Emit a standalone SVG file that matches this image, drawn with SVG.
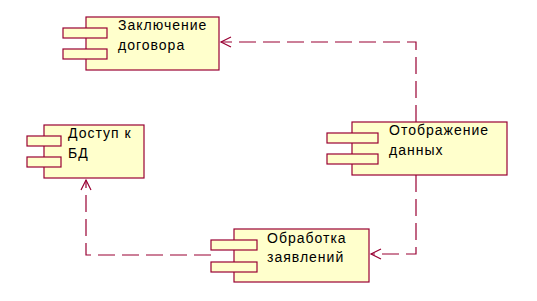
<svg xmlns="http://www.w3.org/2000/svg" width="537" height="301" viewBox="0 0 537 301">
<style>
.body{fill:#FFFFCC;stroke:#990033;stroke-width:1.2}
.tab{fill:#FFFFCC;stroke:#990033;stroke-width:1.2}
.lbl{font-family:"Liberation Sans",Arial,sans-serif;font-size:14px;letter-spacing:1px;fill:#000}
.dep{fill:none;stroke:#990033;stroke-width:1.2;stroke-dasharray:17 7}
</style>
<defs>
<marker id="open" markerUnits="userSpaceOnUse" markerWidth="14" markerHeight="14" refX="11" refY="6" orient="auto">
<path d="M1,1 L11,6 L1,11" fill="none" stroke="#990033" stroke-width="1.2"/>
</marker>
</defs>
<rect width="537" height="301" fill="#fff"/>
<g id="connectors">
<path class="dep" d="M416,122 V42 H221" marker-end="url(#open)"/>
<path class="dep" d="M416,175 V254 H371" marker-end="url(#open)"/>
<path class="dep" d="M211,255 H86 V180" marker-end="url(#open)"/>
</g>
<g id="zaklyuchenie">
<rect class="body" x="86" y="17" width="133" height="53"/>
<rect class="tab" x="63" y="28" width="44" height="10"/>
<rect class="tab" x="63" y="49" width="44" height="10"/>
<text class="lbl" x="118" y="30">Заключение</text>
<text class="lbl" x="118" y="50">договора</text>
</g>
<g id="dostup">
<rect class="body" x="44" y="125" width="100" height="53"/>
<rect class="tab" x="27" y="136" width="34" height="10"/>
<rect class="tab" x="27" y="157" width="34" height="10"/>
<text class="lbl" x="68" y="138">Доступ к</text>
<text class="lbl" x="68" y="158">БД</text>
</g>
<g id="otobrazhenie">
<rect class="body" x="352" y="122" width="155" height="53"/>
<rect class="tab" x="327" y="133" width="51" height="10"/>
<rect class="tab" x="327" y="154" width="51" height="10"/>
<text class="lbl" x="389" y="135">Отображение</text>
<text class="lbl" x="389" y="155">данных</text>
</g>
<g id="obrabotka">
<rect class="body" x="234" y="229" width="135" height="53"/>
<rect class="tab" x="211" y="240" width="46" height="10"/>
<rect class="tab" x="211" y="262" width="46" height="10"/>
<text class="lbl" x="267" y="243">Обработка</text>
<text class="lbl" x="267" y="262">заявлений</text>
</g>
</svg>
